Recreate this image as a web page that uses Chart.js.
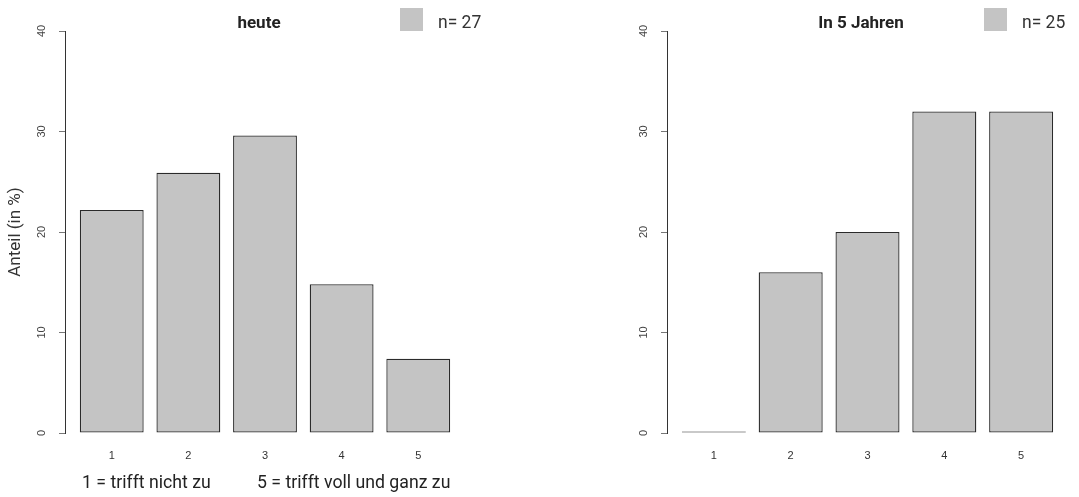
<!DOCTYPE html>
<html>
<head>
<meta charset="utf-8">
<script src="https://cdn.jsdelivr.net/npm/chart.js@4.4.1/dist/chart.umd.min.js"></script>
<style>
  html, body { margin: 0; padding: 0; background: #fff; }
  .panel { position: absolute; top: 0; height: 497px; }
  #leftWrap { left: 0; width: 540px; }
  #rightWrap { left: 540px; width: 539px; }
</style>
</head>
<body>
<div class="panel" id="leftWrap"><canvas id="chartHeute"></canvas></div>
<div class="panel" id="rightWrap"><canvas id="chartFuture"></canvas></div>
<script>
/* ---- data ---- */
const categories = ['1', '2', '3', '4', '5'];
const heuteValues = [22.2, 25.9, 29.6, 14.8, 7.4];
const futureValues = [0, 16, 20, 32, 32];
const yTicks = [0, 10, 20, 30, 40];
const panelTitles = ['heute', 'In 5 Jahren'];
const sampleLabels = ['n= 27', 'n= 25'];
const scaleNotes = ['1 = trifft nicht zu', '5 = trifft voll und ganz zu'];

// R barplot positions: width 1, space 0.2 -> centres at 0.7, 1.9, ...
const barCentres = categories.map((c, i) => 0.7 + 1.2 * i);

const BAR_GREY = '#c4c4c4';
const TEXT_FONT = 'Roboto, "Noto Sans", sans-serif';
const TICK_FONT = '"Liberation Sans", Arial, sans-serif';

// draws panel title, n-legend and the scale notes
const panelDecor = {
    id: 'panelDecor',
    afterDraw(chart, args, opts) {
        const ctx = chart.ctx;
        ctx.save();
        ctx.fillStyle = '#222';
        ctx.textBaseline = 'middle';

        ctx.font = 'bold 17px ' + TEXT_FONT;
        ctx.textAlign = 'center';
        ctx.fillText(opts.title, opts.titleX, 24);

        // legend swatch + label from dataset
        ctx.fillStyle = BAR_GREY;
        ctx.fillRect(opts.legendX, 8, 23, 23);
        ctx.fillStyle = '#333';
        ctx.font = '17.5px ' + TEXT_FONT;
        ctx.textAlign = 'left';
        ctx.fillText(chart.data.datasets[0].label, opts.legendX + 38, 24);

        if (opts.notes) {
            ctx.fillStyle = '#222';
            ctx.font = '17.7px ' + TEXT_FONT;
            ctx.fillText(opts.notes[0], 82, 484);
            ctx.fillText(opts.notes[1], 257, 484);
        }
        ctx.restore();
    }
};

function makeChart(canvasId, values, idx, layoutOpts) {
    const ctx = document.getElementById(canvasId);
    return new Chart(ctx, {
        type: 'bar',
        data: {
            datasets: [{
                label: sampleLabels[idx],
                data: values.map((v, i) => ({ x: barCentres[i], y: v })),
                backgroundColor: BAR_GREY,
                borderColor: '#2b2b2b',
                borderWidth: 1.3,
                borderSkipped: false,
                minBarLength: 1.5,
                barPercentage: 1 / 1.2,
                categoryPercentage: 1
            }]
        },
        options: {
            responsive: true,
            maintainAspectRatio: false,
            animation: false,
            layout: {
                padding: { top: 31, bottom: 0, left: 0, right: layoutOpts.padRight }
            },
            plugins: {
                legend: { display: false },
                tooltip: { enabled: false },
                panelDecor: {
                    title: panelTitles[idx],
                    titleX: layoutOpts.titleX,
                    legendX: layoutOpts.legendX,
                    notes: layoutOpts.notes
                }
            },
            scales: {
                x: {
                    type: 'linear',
                    offset: false,
                    min: -0.032,
                    max: 6.232,
                    grid: { display: false, drawTicks: false, offset: false },
                    border: { display: false },
                    afterBuildTicks: scale => {
                        scale.ticks = barCentres.map(v => ({ value: v }));
                    },
                    afterFit: scale => { scale.height = 64; },
                    ticks: {
                        autoSkip: false,
                        maxRotation: 0,
                        padding: 16,
                        color: '#333',
                        font: { family: TICK_FONT, size: 11 },
                        callback: (value, index) => categories[index]
                    }
                },
                y: {
                    min: 0,
                    max: 40,
                    afterBuildTicks: scale => {
                        scale.ticks = yTicks.map(v => ({ value: v }));
                    },
                    afterFit: scale => { scale.width = layoutOpts.axisX; },
                    grid: {
                        drawOnChartArea: false,
                        drawTicks: true,
                        tickLength: 6,
                        color: '#777'
                    },
                    border: { display: true, color: '#333', width: 1 },
                    ticks: {
                        minRotation: 90,
                        maxRotation: 90,
                        crossAlign: 'center',
                        padding: 11,
                        color: '#444',
                        font: { family: TICK_FONT, size: 11 }
                    },
                    title: {
                        display: layoutOpts.yTitle !== undefined,
                        text: layoutOpts.yTitle || '',
                        color: '#333',
                        font: { family: TEXT_FONT, size: 17 },
                        padding: { top: 6, bottom: 0 }
                    }
                }
            }
        },
        plugins: [panelDecor]
    });
}

makeChart('chartHeute', heuteValues, 0, {
    axisX: 65, padRight: 75, titleX: 259, legendX: 400,
    yTitle: 'Anteil (in %)', notes: scaleNotes
});
makeChart('chartFuture', futureValues, 1, {
    axisX: 127, padRight: 11, titleX: 321, legendX: 444
});
</script>
</body>
</html>
